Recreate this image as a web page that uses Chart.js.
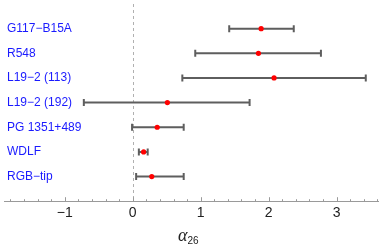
<!DOCTYPE html>
<html>
<head>
<meta charset="utf-8">
<script src="https://cdn.jsdelivr.net/npm/chart.js@4"></script>
<style>
  html, body { margin: 0; padding: 0; background: #fff; }
  #wrap { width: 382px; height: 244px; }
</style>
</head>
<body>
<div id="wrap"><canvas id="chart"></canvas></div>
<script>
const names = ["G117\u2212B15A", "R548", "L19\u22122 (113)", "L19\u22122 (192)", "PG 1351+489", "WDLF", "RGB\u2212tip"];
const centers = [1.89, 1.85, 2.08, 0.51, 0.36, 0.16, 0.28];
const lows = [1.42, 0.92, 0.73, -0.72, -0.01, 0.09, 0.05];
const highs = [2.37, 2.77, 3.43, 1.72, 0.75, 0.22, 0.75];
const xTicks = [-1, 0, 1, 2, 3];

// error bars, zero line, inward ticks and the axis label
const extras = {
  id: "extras",
  beforeDatasetsDraw(chart) {
    const { ctx, chartArea, scales: { x, y } } = chart;
    ctx.save();
    // dashed zero line
    ctx.strokeStyle = "#b0b0b0";
    ctx.lineWidth = 1;
    ctx.setLineDash([3, 3]);
    const x0 = Math.round(x.getPixelForValue(0)) + 0.5;
    ctx.beginPath();
    ctx.moveTo(x0, chartArea.top);
    ctx.lineTo(x0, chartArea.bottom);
    ctx.stroke();
    ctx.setLineDash([]);

    // error bars
    ctx.strokeStyle = "#5e5e5e";
    ctx.lineWidth = 2;
    names.forEach((n, i) => {
      const py = y.getPixelForValue(i + 1);
      const a = x.getPixelForValue(lows[i]);
      const b = x.getPixelForValue(highs[i]);
      ctx.beginPath();
      ctx.moveTo(a, py); ctx.lineTo(b, py);
      ctx.moveTo(a, py - 3.5); ctx.lineTo(a, py + 3.5);
      ctx.moveTo(b, py - 3.5); ctx.lineTo(b, py + 3.5);
      ctx.stroke();
    });

    // axis ticks pointing up
    ctx.strokeStyle = "#9a9a9a";
    ctx.lineWidth = 1;
    const yb = chartArea.bottom;
    for (let k = -9; k <= 18; k++) {
      const v = k / 5;
      const px = Math.round(x.getPixelForValue(v)) + 0.5;
      const len = k % 5 === 0 ? 4 : 2;
      ctx.beginPath();
      ctx.moveTo(px, yb); ctx.lineTo(px, yb - len);
      ctx.stroke();
    }

    // axis title: alpha_26
    const cx = x.getPixelForValue(0.79);
    ctx.fillStyle = "#222";
    ctx.textBaseline = "alphabetic";
    ctx.font = "italic 18px 'Liberation Serif'";
    ctx.textAlign = "right";
    ctx.fillText("\u03b1", cx + 1, 241);
    ctx.font = "10px 'Liberation Sans'";
    ctx.textAlign = "left";
    ctx.fillText("26", cx + 1, 243.5);
    ctx.restore();
  }
};

new Chart(document.getElementById("chart"), {
  type: "scatter",
  data: {
    datasets: [{
      data: centers.map((c, i) => ({ x: c, y: i + 1 })),
      backgroundColor: "#ff0000",
      borderWidth: 0,
      pointRadius: 2.6,
    }],
  },
  options: {
    responsive: true,
    maintainAspectRatio: false,
    animation: false,
    layout: { padding: { top: 0, left: 0, right: 0, bottom: 18 } },
    plugins: { legend: { display: false }, tooltip: { enabled: false } },
    scales: {
      x: {
        min: -1.895,
        max: 3.61,
        afterBuildTicks: (s) => { s.ticks = xTicks.map((v) => ({ value: v })); },
        afterFit: (s) => { s.paddingLeft = 0; s.paddingRight = 0; },
        grid: { display: true, drawOnChartArea: false, drawTicks: false },
        border: { display: true, color: "#9a9a9a", width: 1 },
        ticks: {
          padding: 4,
          color: "#222",
          font: { family: "'Liberation Sans'", size: 14 },
          callback: (v) => (v < 0 ? "\u2212" + Math.abs(v) : String(v)),
        },
      },
      y: {
        min: 0,
        max: 8,
        reverse: true,
        afterBuildTicks: (s) => { s.ticks = names.map((n, i) => ({ value: i + 1 })); },
        afterFit: (s) => { s.width = 0; s.paddingTop = 0; s.paddingBottom = 0; },
        grid: { display: false },
        border: { display: false },
        ticks: {
          mirror: true,
          padding: 3,
          color: "#1a1aff",
          font: { family: "'Liberation Sans'", size: 12 },
          callback: (v) => names[v - 1],
        },
      },
    },
  },
  plugins: [extras],
});
</script>
</body>
</html>
